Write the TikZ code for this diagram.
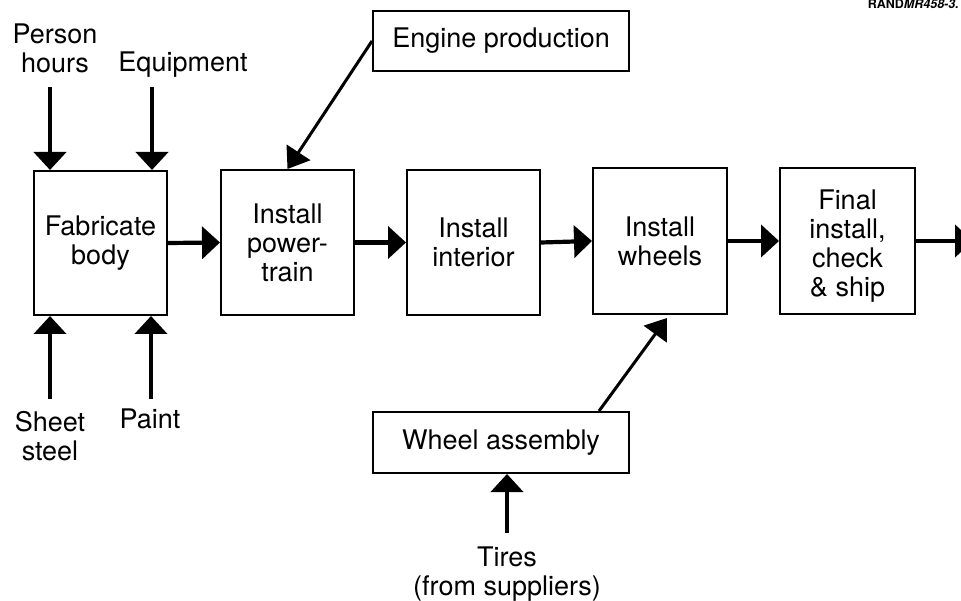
\documentclass[tikz,border=0pt]{standalone}
\usepackage{fontspec}
\setmainfont{TeX Gyre Heros}
\usetikzlibrary{arrows.meta,calc}
\begin{document}
\begin{tikzpicture}[x=1pt,y=-1pt,
  box/.style={draw,line width=2pt,inner sep=0pt,align=center,font=\fontsize{27}{29}\selectfont},
  lbl/.style={align=center,inner sep=0pt,font=\fontsize{27}{29}\selectfont},
  flow/.style={line width=4.2pt,-{Triangle[length=18pt,width=32pt]}},
  slant flow/.style={line width=3pt,-{Triangle[length=20pt,width=28pt]}}]
\clip (0,0) rectangle (961,601);
\fill[white] (0,0) rectangle (961,601);

% process boxes
\node[box,minimum width=133pt,minimum height=144pt] (fab) at (100.5,243) {Fabricate\\body};
\node[box,minimum width=133pt,minimum height=145pt] (pt) at (287.5,242.5) {Install\\power-\\train};
\node[box,minimum width=133pt,minimum height=145pt] (int) at (473.5,242.5) {Install\\interior};
\node[box,minimum width=134pt,minimum height=146pt] (whl) at (660,241) {Install\\wheels};
\node[box,minimum width=135pt,minimum height=146pt] (fin) at (847.5,241) {};
\node[lbl] (fint) at (847.5,246) {Final\\install,\\check\\\& ship};
\node[box,minimum width=256pt,minimum height=60pt] (eng) at (501,41) {Engine production};
\node[box,minimum width=256pt,minimum height=61pt] (wa) at (501,442.5) {Wheel assembly};

% labels
\node[lbl] (phl) at (55,48) {Person\\hours};
\node[lbl] (eql) at (183,65) {Equipment};
\node[lbl] (ssl) at (50,436) {Sheet\\steel};
\node[lbl] (pal) at (150,419) {Paint};
\node[lbl] (til) at (507,574) {Tires\\(from suppliers)};
\node[anchor=base east,inner sep=0pt,font=\fontsize{12.5}{14}\selectfont\bfseries] (rand) at (959,9) {RAND\textit{MR458-3.}};

% free arrow ends
\coordinate (ph) at (50,87);
\coordinate (eq) at (152,87);
\coordinate (ss) at (50,399);
\coordinate (pa) at (151,399);
\coordinate (ti) at (507,533);
\coordinate (out) at (973,241);

% inputs
\draw[flow] (ph) -- (ph |- fab.north);
\draw[flow] (eq) -- (eq |- fab.north);
\draw[flow] (ss) -- (ss |- fab.south);
\draw[flow] (pa) -- (pa |- fab.south);
\draw[flow] (ti) -- (ti |- wa.south);

% main flow
\draw[flow] (fab.east) -- (pt.west);
\draw[flow] (pt.east) -- (int.west);
\draw[flow] (int.east) -- (whl.west);
\draw[flow] (whl.east) -- (fin.west);
\draw[flow] (fin.east) -- (out);

% side feeds
\draw[slant flow] (eng.west) -- (pt.north);
\draw[slant flow] ($(wa.north west)!0.88!(wa.north east)$) -- ([xshift=7pt,yshift=-3pt]whl.south);
\end{tikzpicture}
\end{document}
